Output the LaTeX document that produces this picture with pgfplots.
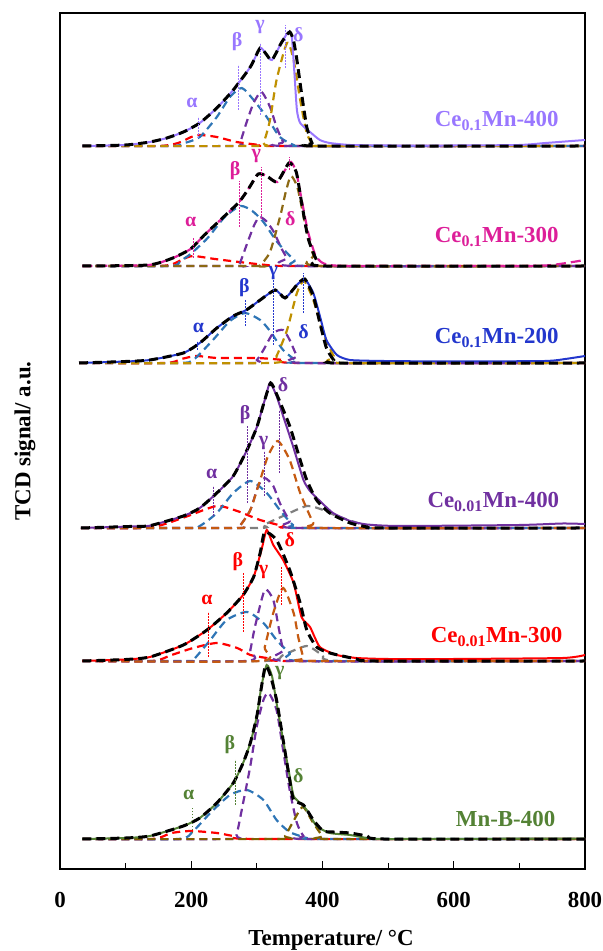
\documentclass[border=0pt]{standalone}
\usepackage{fontspec}
\setmainfont{Liberation Serif}
\usepackage{pgfplots}
\pgfplotsset{compat=1.18}
\definecolor{cPa}{RGB}{153,119,255}
\definecolor{cPb}{RGB}{221,30,153}
\definecolor{cPc}{RGB}{35,55,205}
\definecolor{cPd}{RGB}{112,48,160}
\definecolor{cPe}{RGB}{255,0,0}
\definecolor{cPf}{RGB}{84,130,53}
\definecolor{kRed}{RGB}{255,0,0}
\definecolor{kBlue}{RGB}{46,117,182}
\definecolor{kPur}{RGB}{112,48,160}
\definecolor{kGold}{RGB}{191,144,0}
\definecolor{kOlive}{RGB}{140,105,20}
\definecolor{kOra}{RGB}{197,90,17}
\definecolor{kGrey}{RGB}{127,127,127}
\definecolor{kOl2}{RGB}{127,96,0}
\tikzset{
  gl/.style={font=\fontsize{20}{20}\selectfont\bfseries},
  pl/.style={font=\fontsize{23}{23}\selectfont\bfseries, anchor=east},
}
\begin{document}
\begin{tikzpicture}
\begin{axis}[
  at={(0,0)}, anchor=south west,
  width=525bp, height=856bp, scale only axis,
  xmin=0, xmax=800, ymin=0, ymax=856,
  xtick={0,200,400,600,800}, minor xtick={100,300,500,700},
  ytick=\empty,
  xtick pos=bottom, tick align=inside,
  major tick length=8bp, minor tick length=6bp,
  tick style={black, line width=1bp},
  axis line style={line width=1.3bp},
  /pgf/number format/assume math mode=true,
  xticklabel style={font=\fontsize{23}{23}\selectfont\bfseries, anchor=base, yshift=-38bp},
  off/.style={y filter/.expression={y+#1}},
  exp/.style={solid, line width=2bp, smooth, tension=0.35},
  fit/.style={black, line width=3bp, dash pattern=on 9bp off 5bp, smooth, tension=0.35},
  comp/.style={line width=2.2bp, dash pattern=on 8bp off 5bp, smooth, tension=0.4},
  vl/.style={line width=0.8bp, dash pattern=on 1.5bp off 1.5bp},
  every axis plot/.append style={no markers},
]
% ---------------- Panel 1: Ce0.1Mn-400 (baseline 723)
\addplot[comp, kRed, off=723] coordinates {(34,0)(150,0)(180,3)(200,9)(213,11)(239,9)(269,4)(305,1)(330,0)(800,0)};
\addplot[comp, kBlue, off=723] coordinates {(34,0)(170,0)(190,3)(213,9)(239,29)(259,49)(277,58)(295,46)(315,29)(335,9)(356,1)(370,0)(800,0)};
\addplot[comp, kPur, off=723] coordinates {(34,0)(265,0)(274,3)(284,23)(295,43)(307,54)(320,39)(330,19)(340,4)(348,0)(800,0)};
\addplot[comp, kGold, off=723] coordinates {(34,0)(300,0)(310,3)(320,26)(330,66)(346,103)(356,86)(366,46)(376,13)(386,1)(395,0)(800,0)};
\addplot[exp, cPa, off=723] coordinates {(34,0)(100,1)(137,4)(163,8)(188,14)(213,23)(239,38)(264,56)(290,79)(305,98)(314,92)(323,86)(338,104)(348,114)(353,111)(357,75)(361,36)(366,23)(381,14)(396,6)(411,3)(442,1)(500,0.5)(600,0.5)(700,1)(740,3)(800,6)};
\addplot[fit, off=723] coordinates {(34,0)(100,1)(137,4)(163,8)(188,14)(213,23)(239,38)(264,56)(290,79)(305,98)(314,92)(323,86)(338,104)(350,114)(356,105)(361,86)(368,53)(376,19)(384,3)(391,0)(800,0)};
\addplot[vl, cPa, off=723] coordinates {(211,8)(211,29)};
\addplot[vl, cPa, off=723] coordinates {(272,36)(272,81)};
\addplot[vl, cPa, off=723] coordinates {(305,31)(305,103)};
\addplot[vl, cPa, off=723] coordinates {(343,78)(343,121)};
\node[gl, text=cPa] at (axis cs:201,766) {α};
\node[gl, text=cPa] at (axis cs:270,827) {β};
\node[gl, text=cPa] at (axis cs:305,842) {γ};
\node[gl, text=cPa] at (axis cs:363,834) {δ};
\node[pl, text=cPa] at (axis cs:765,748) {Ce\textsubscript{0.1}Mn-400};
% ---------------- Panel 2: Ce0.1Mn-300 (baseline 603)
\addplot[comp, kRed, off=603] coordinates {(34,0)(150,0)(172,2)(188,7)(203,10)(236,7)(273,4)(315,1)(358,0)(800,0)};
\addplot[comp, kBlue, off=603] coordinates {(34,0)(168,0)(183,5)(199,12)(225,28)(251,49)(275,60)(293,55)(310,44)(331,24)(357,6)(378,0)(800,0)};
\addplot[comp, kPur, off=603] coordinates {(34,0)(268,0)(273,1)(286,24)(296,41)(304,49)(314,45)(325,35)(338,17)(346,8)(357,0)(800,0)};
\addplot[comp, kOlive, off=603] coordinates {(34,0)(298,0)(304,0)(320,14)(336,51)(344,74)(352,90)(362,78)(373,44)(386,11)(399,0)(800,0)};
\addplot[cPb, line width=2.2bp, dash pattern=on 10bp off 5bp, smooth, tension=0.35, off=603] coordinates {(34,0)(135,1)(172,8)(199,17)(220,31)(246,47)(273,64)(288,78)(302,92)(315,90)(331,84)(343,96)(352,104)(360,94)(368,67)(378,34)(389,11)(398,4)(410,1)(448,0)(700,0)(750,1)(800,6)};
\addplot[fit, off=603] coordinates {(34,0)(135,1)(172,8)(199,17)(220,31)(246,47)(273,64)(288,78)(302,92)(315,90)(331,84)(349,103)(360,94)(368,64)(378,28)(391,6)(405,0)(800,0)};
\addplot[vl, cPb, off=603] coordinates {(203,8)(203,28)};
\addplot[vl, cPb, off=603] coordinates {(274,39)(274,85)};
\addplot[vl, cPb, off=603] coordinates {(307,47)(307,99)};
\addplot[vl, cPb, off=603] coordinates {(349,96)(349,109)};
\node[gl, text=cPb] at (axis cs:199,647) {α};
\node[gl, text=cPb] at (axis cs:267,698) {β};
\node[gl, text=cPb] at (axis cs:299,713) {γ};
\node[gl, text=cPb] at (axis cs:351,650) {δ};
\node[pl, text=cPb] at (axis cs:765,632) {Ce\textsubscript{0.1}Mn-300};
% ---------------- Panel 3: Ce0.1Mn-200 (baseline 506)
\addplot[comp, kRed, off=506] coordinates {(29,0)(160,0)(185,4)(208,7)(240,5)(300,5)(340,3)(366,0)(800,0)};
\addplot[comp, kBlue, off=506] coordinates {(29,0)(180,0)(203,3)(233,23)(259,42)(282,50)(305,43)(320,32)(340,13)(361,2)(375,0)(800,0)};
\addplot[comp, kPur, off=506] coordinates {(29,0)(290,0)(300,3)(310,13)(325,30)(340,33)(350,23)(361,7)(371,0)(800,0)};
\addplot[comp, kGold, off=506] coordinates {(29,0)(320,0)(330,7)(346,33)(361,70)(372,82)(386,63)(401,30)(417,7)(428,0)(800,0)};
\addplot[exp, cPc, off=506] coordinates {(29,0)(100,1.5)(137,3)(188,10)(213,20)(239,35)(264,47)(284,53)(305,63)(328,73)(343,65)(361,78)(373,84)(386,70)(396,47)(406,23)(422,8)(442,3)(493,2)(600,1.5)(739,2)(770,4)(800,7)};
\addplot[fit, off=506] coordinates {(29,0)(100,1.5)(137,3)(188,10)(213,20)(239,35)(264,47)(284,53)(305,63)(328,73)(343,65)(361,78)(373,84)(386,67)(396,40)(406,15)(417,3)(425,0)(800,0)};
\addplot[vl, cPc, off=506] coordinates {(210,13)(210,22)};
\addplot[vl, cPc, off=506] coordinates {(283,37)(283,63)};
\addplot[vl, cPc, off=506] coordinates {(325,18)(325,87)};
\addplot[vl, cPc, off=506] coordinates {(371,50)(371,90)};
\node[gl, text=cPc] at (axis cs:211,541) {α};
\node[gl, text=cPc] at (axis cs:281,581) {β};
\node[gl, text=cPc] at (axis cs:325,596) {γ};
\node[gl, text=cPc] at (axis cs:371,537) {δ};
\node[pl, text=cPc] at (axis cs:765,531) {Ce\textsubscript{0.1}Mn-200};
% ---------------- Panel 4: Ce0.01Mn-400 (baseline 341)
\addplot[comp, kGrey, off=341] coordinates {(32,0)(300,0)(310,3)(340,12)(376,22)(401,18)(422,12)(468,2)(490,0)(800,0)};
\addplot[comp, kRed, off=341] coordinates {(32,0)(130,0)(160,4)(195,12)(239,22)(270,17)(305,8)(340,2)(365,0)(800,0)};
\addplot[comp, kBlue, off=341] coordinates {(32,0)(195,0)(213,2)(239,15)(264,35)(290,47)(315,35)(335,18)(355,3)(370,0)(800,0)};
\addplot[comp, kPur, off=341] coordinates {(32,0)(268,0)(274,2)(290,18)(302,42)(312,50)(325,42)(335,25)(350,7)(361,0)(800,0)};
\addplot[comp, kOra, off=341] coordinates {(32,0)(268,0)(274,2)(290,18)(305,48)(317,72)(332,87)(350,68)(366,35)(386,5)(395,0)(800,0)};
\addplot[exp, cPd, off=341] coordinates {(32,0)(106,1.5)(137,2.3)(188,12)(213,20)(239,35)(264,52)(285,78)(300,101)(312,128)(320,145)(330,132)(340,112)(355,82)(371,48)(381,37)(396,27)(416,15)(442,7)(468,3.5)(518,2)(700,3)(766,4.5)(800,4)};
\addplot[fit, off=341] coordinates {(32,0)(106,1.5)(137,2.3)(188,12)(213,20)(239,35)(264,52)(285,78)(300,101)(312,128)(321,145)(330,134)(350,102)(366,68)(376,48)(391,28)(411,15)(442,5)(468,1)(490,0)(800,0)};
\addplot[vl, cPd, off=341] coordinates {(233,12)(233,42)};
\addplot[vl, cPd, off=341] coordinates {(286,25)(286,102)};
\addplot[vl, cPd, off=341] coordinates {(311,32)(311,77)};
\addplot[vl, cPd, off=341] coordinates {(335,55)(335,118)};
\node[gl, text=cPd] at (axis cs:231,395) {α};
\node[gl, text=cPd] at (axis cs:282,454) {β};
\node[gl, text=cPd] at (axis cs:310,426) {γ};
\node[gl, text=cPd] at (axis cs:340,484) {δ};
\node[pl, text=cPd] at (axis cs:766,367) {Ce\textsubscript{0.01}Mn-400};
% ---------------- Panel 5: Ce0.01Mn-300 (baseline 208)
\addplot[comp, kGrey, off=208] coordinates {(34,0)(310,0)(340,6)(376,15)(400,6)(430,0)(800,0)};
\addplot[comp, kRed, off=208] coordinates {(34,0)(140,0)(170,6)(203,13)(239,18)(270,13)(290,6)(315,3)(350,0)(800,0)};
\addplot[comp, kBlue, off=208] coordinates {(34,0)(195,0)(203,1)(229,21)(254,41)(285,49)(310,38)(330,21)(350,8)(371,0)(800,0)};
\addplot[comp, kPur, off=208] coordinates {(34,0)(283,0)(290,11)(297,34)(312,71)(325,61)(333,34)(340,11)(348,0)(800,0)};
\addplot[comp, kOra, off=208] coordinates {(34,0)(305,0)(312,14)(325,48)(340,73)(356,48)(363,24)(371,3)(376,0)(800,0)};
\addplot[exp, cPe, off=208] coordinates {(34,0)(100,1.5)(137,4)(188,16)(224,31)(254,48)(279,66)(295,84)(307,111)(315,131)(325,116)(340,101)(356,78)(368,44)(381,34)(396,14)(422,6)(452,3)(500,2)(600,2)(766,3)(800,6)};
\addplot[fit, off=208] coordinates {(34,0)(100,1.5)(137,4)(188,16)(224,31)(254,48)(279,66)(295,84)(305,108)(312,129)(330,121)(350,91)(366,58)(376,31)(391,14)(411,8)(452,2)(480,0)(800,0)};
\addplot[vl, cPe, off=208] coordinates {(226,4)(226,49)};
\addplot[vl, cPe, off=208] coordinates {(279,29)(279,88)};
\addplot[vl, cPe, off=208] coordinates {(338,56)(338,94)};
\node[gl, text=cPe] at (axis cs:224,269) {α};
\node[gl, text=cPe] at (axis cs:271,307) {β};
\node[gl, text=cPe] at (axis cs:310,297) {γ};
\node[gl, text=cPe] at (axis cs:350,329) {δ};
\node[pl, text=cPe] at (axis cs:771,232) {Ce\textsubscript{0.01}Mn-300};
% ---------------- Panel 6: Mn-B-400 (baseline 30)
\addplot[comp, kRed, off=30] coordinates {(34,0)(140,0)(170,6)(200,8)(239,6)(264,3)(300,0)(800,0)};
\addplot[comp, kBlue, off=30] coordinates {(34,0)(180,0)(203,8)(229,26)(259,44)(285,49)(310,39)(330,19)(350,7)(376,1)(390,0)(800,0)};
\addplot[comp, kPur, off=30] coordinates {(34,0)(262,0)(269,4)(279,36)(290,73)(300,113)(310,139)(318,146)(330,129)(340,89)(350,49)(361,16)(371,3)(380,0)(800,0)};
\addplot[comp, kOl2, off=30] coordinates {(34,0)(335,0)(343,3)(355,17)(370,32)(385,17)(400,3)(410,0)(800,0)};
\addplot[exp, cPf, off=30] coordinates {(34,0)(100,1)(137,3)(188,13)(213,21)(239,36)(264,56)(279,76)(290,96)(300,123)(307,153)(315,174)(323,163)(330,136)(340,99)(350,63)(356,43)(366,36)(376,29)(391,13)(411,6)(442,4)(468,1)(500,0)(800,0.5)};
\addplot[fit, off=30] coordinates {(34,0)(100,1)(137,3)(188,13)(213,21)(239,36)(264,56)(279,76)(290,96)(300,123)(307,152)(313,173)(320,165)(330,139)(340,99)(350,59)(356,39)(371,34)(386,19)(401,8)(417,7)(442,6)(468,3)(493,0)(800,0)};
\addplot[vl, cPf, off=30] coordinates {(201,6)(201,31)};
\addplot[vl, cPf, off=30] coordinates {(267,34)(267,79)};
\node[gl, text=cPf] at (axis cs:196,74) {α};
\node[gl, text=cPf] at (axis cs:259,124) {β};
\node[gl, text=cPf] at (axis cs:335,196) {γ};
\node[gl, text=cPf] at (axis cs:363,93) {δ};
\node[pl, text=cPf] at (axis cs:760,50) {Mn-B-400};
\end{axis}
\node[font=\fontsize{23}{23}\selectfont\bfseries] at (271bp,-71bp) {Temperature/ °C};
\node[font=\fontsize{23}{23}\selectfont\bfseries, rotate=90] at (-35bp,428bp) {TCD signal/ a.u.};
\pgfresetboundingbox
\path[use as bounding box] (-60bp,-82bp) rectangle (543bp,869bp);
\end{tikzpicture}
\end{document}
